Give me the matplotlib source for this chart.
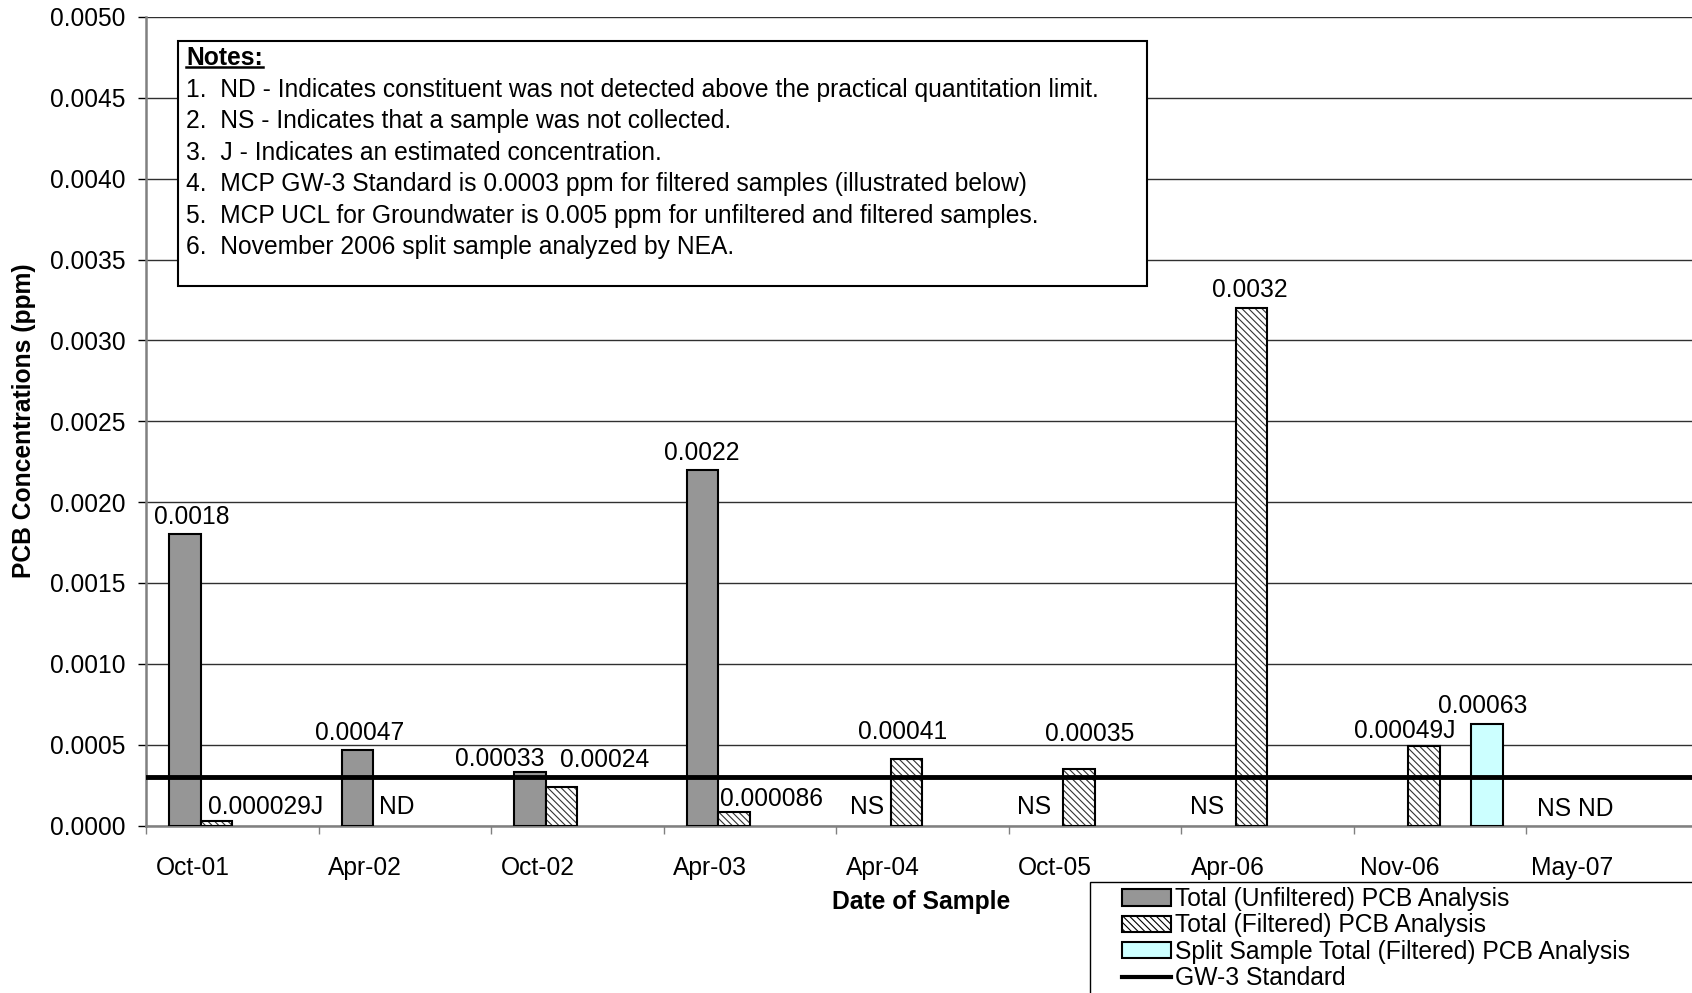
import matplotlib
matplotlib.use("Agg")
import matplotlib.pyplot as plt
import numpy as np
from matplotlib.patches import Rectangle, Patch
from matplotlib.lines import Line2D

dates = ["Oct-01", "Apr-02", "Oct-02", "Apr-03", "Apr-04", "Oct-05", "Apr-06", "Nov-06", "May-07"]
unfiltered = [0.0018, 0.00047, 0.00033, 0.0022, np.nan, np.nan, np.nan, np.nan, np.nan]
filtered = [0.000029, np.nan, 0.00024, 0.000086, 0.00041, 0.00035, 0.0032, 0.00049, np.nan]
split = [np.nan, np.nan, np.nan, np.nan, np.nan, np.nan, np.nan, 0.00063, np.nan]
gw3_standard = 0.0003

unfiltered_labels = ["0.0018", "0.00047", "0.00033", "0.0022", "NS", "NS", "NS", "", "NS"]
filtered_labels = ["0.000029J", "ND", "0.00024", "0.000086", "0.00041", "0.00035", "0.0032", "0.00049J", "ND"]
split_labels = ["", "", "", "", "", "", "", "0.00063", ""]

notes = [
    "1.  ND - Indicates constituent was not detected above the practical quantitation limit.",
    "2.  NS - Indicates that a sample was not collected.",
    "3.  J - Indicates an estimated concentration.",
    "4.  MCP GW-3 Standard is 0.0003 ppm for filtered samples (illustrated below)",
    "5.  MCP UCL for Groundwater is 0.005 ppm for unfiltered and filtered samples.",
    "6.  November 2006 split sample analyzed by NEA.",
]

# label nudges in pixels (dx, dy from top centre of each bar)
unf_off = [(7, 17), (2, 17), (-30, 13), (-1, 17), (-8, 18), (-13, 18), (-13, 18), (0, 0), (-11, 17)]
fil_off = [(49, 14), (8, 18), (43, 27), (37, 13), (-4, 27), (11, 35), (-2, 18), (-19, 15), (-1, 17)]
spl_off = [(0, 0)] * 7 + [(-4, 18), (0, 0)]

plt.rcParams["font.family"] = ["Liberation Sans", "DejaVu Sans"]
plt.rcParams["font.size"] = 17.7
plt.rcParams["hatch.linewidth"] = 0.8

W, H = 1692, 993
fig = plt.figure(figsize=(W / 100, H / 100), dpi=100)
ax = fig.add_axes([146 / W, 1 - 825.5 / H, (1698.5 - 146) / W, (825.5 - 17) / H])

x = np.arange(len(dates))
bw = 0.1826
slots = [-0.274, -0.0913, 0.0913, 0.274]
hatch = "\\\\\\\\\\"

ax.bar(x + slots[0], unfiltered, bw, color="#969696", edgecolor="black", linewidth=1.5, zorder=3)
ax.bar(x + slots[1], filtered, bw, color="white", edgecolor="#333333", linewidth=0,
       hatch=hatch, zorder=3)
ax.bar(x + slots[1], filtered, bw, fill=False, edgecolor="black", linewidth=1.5, zorder=3)
ax.bar(x + slots[3], split, bw, color="#CCFFFF", edgecolor="black", linewidth=1.5, zorder=3)
ax.axhline(gw3_standard, color="black", linewidth=3.5, zorder=4)


def put_labels(vals, labels, offs, slot):
    for i, (v, lab) in enumerate(zip(vals, labels)):
        if not lab:
            continue
        top = 0 if np.isnan(v) else v
        ax.annotate(lab, (x[i] + slot, top), xytext=offs[i], textcoords="offset pixels",
                    ha="center", va="center", zorder=6)


put_labels(unfiltered, unfiltered_labels, unf_off, slots[0])
put_labels(filtered, filtered_labels, fil_off, slots[1])
put_labels(split, split_labels, spl_off, slots[3])

ax.set_xlim(-0.5, len(dates) - 0.5)
ax.set_ylim(0, 0.005)
ax.set_yticks(np.arange(0, 0.00501, 0.0005))
ax.set_yticklabels([f"{v:.4f}" for v in np.arange(0, 0.00501, 0.0005)])
ax.yaxis.grid(True, color="#303030", linewidth=1.0, zorder=0)
ax.set_axisbelow(True)

ax.set_xticks(x - 0.23)
ax.set_xticklabels(dates)
ax.set_xticks(np.arange(-0.5, len(dates)), minor=True)
ax.tick_params(axis="x", which="major", length=0, pad=22)
ax.tick_params(axis="x", which="minor", length=6, width=1, color="#808080")
ax.tick_params(axis="y", length=6, width=1, pad=9, color="black")

for s in ["top", "right"]:
    ax.spines[s].set_visible(False)
for s in ["left", "bottom"]:
    ax.spines[s].set_color("#808080")
    ax.spines[s].set_linewidth(1.8)

fig.text(24 / W, 1 - 421 / H, "PCB Concentrations (ppm)", rotation=90, ha="center",
         va="center", fontweight="bold")
fig.text(921 / W, 1 - 902 / H, "Date of Sample", ha="center", va="center", fontweight="bold")

# notes box
ax.add_patch(Rectangle((178 / W, 1 - 286 / H), (1147 - 178) / W, (286 - 41) / H,
                       transform=fig.transFigure, facecolor="white", edgecolor="black",
                       linewidth=1.5, zorder=7, clip_on=False))
t0 = ax.text(186 / W, 1 - 58 / H, "Notes:", transform=fig.transFigure, fontweight="bold",
             va="center", ha="left", zorder=8)
for k, line in enumerate(notes):
    ax.text(186 / W, 1 - (90 + 31.4 * k) / H, line, transform=fig.transFigure,
            va="center", ha="left", zorder=8)

fig.canvas.draw()
bb = t0.get_window_extent()
ax.add_line(Line2D([bb.x0 / W, bb.x1 / W], [(bb.y0 + 3) / H] * 2, transform=fig.transFigure,
                   color="black", linewidth=1.8, zorder=8))

# legend
fig.add_artist(Rectangle((1090 / W, -0.02), 0.5, 1 - 882 / H + 0.02, transform=fig.transFigure,
                         facecolor="white", edgecolor="black", linewidth=1.0))
handles = [
    Patch(facecolor="#969696", edgecolor="black", linewidth=1.5),
    Patch(facecolor="white", edgecolor="black", linewidth=1.5, hatch=hatch),
    Patch(facecolor="#CCFFFF", edgecolor="black", linewidth=1.5),
    Line2D([], [], color="black", linewidth=3),
]
names = ["Total (Unfiltered) PCB Analysis", "Total (Filtered) PCB Analysis",
         "Split Sample Total (Filtered) PCB Analysis", "GW-3 Standard"]
fig.legend(handles, names, loc="upper left", bbox_to_anchor=(1122 / W, 1 - 887 / H),
           frameon=False, borderpad=0, borderaxespad=0, labelspacing=0.1,
           handlelength=2.0, handleheight=0.65, handletextpad=0.15)

fig.savefig("out.png", dpi=100)
